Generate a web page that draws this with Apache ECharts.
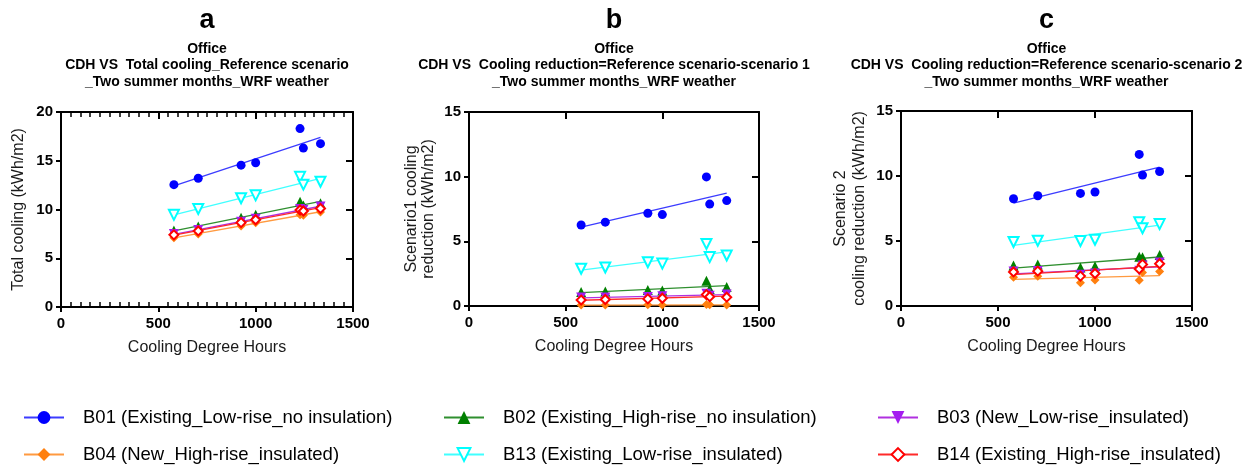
<!DOCTYPE html>
<html><head><meta charset="utf-8">
<script src="https://cdn.jsdelivr.net/npm/echarts@6/dist/echarts.min.js"></script>
<style>html,body{margin:0;padding:0;background:#fff}#c{width:1258px;height:465px}</style>
</head><body><div id="c"></div>
<script>
// ---- data ----
const cdh = [580, 705, 925, 1000, 1228, 1245, 1333];
const buildings = ['B01 (Existing_Low-rise_no insulation)', 'B02 (Existing_High-rise_no insulation)', 'B03 (New_Low-rise_insulated)',
                   'B04 (New_High-rise_insulated)', 'B13 (Existing_Low-rise_insulated)', 'B14 (Existing_High-rise_insulated)'];
// panel a: total cooling, reference scenario
const refB01 = [12.55, 13.2, 14.55, 14.8, 18.3, 16.3, 16.75];
const refB02 = [7.85, 8.25, 9.15, 9.45, 10.8, 10.4, 10.65];
const refB03 = [7.5, 7.9, 8.75, 9.05, 10.05, 9.95, 10.3];
const refB04 = [7.1, 7.5, 8.3, 8.65, 9.45, 9.4, 9.75];
const refB13 = [9.45, 10.05, 11.15, 11.45, 13.35, 12.55, 12.85];
const refB14 = [7.4, 7.8, 8.65, 8.95, 9.95, 9.85, 10.1];
// panel b: cooling reduction scenario 1
const s1B01 = [6.26, 6.48, 7.17, 7.07, 9.98, 7.88, 8.15];
const s1B02 = [1.08, 1.13, 1.24, 1.19, 1.95, 1.32, 1.47];
const s1B03 = [0.66, 0.66, 0.7, 0.75, 0.95, 0.8, 0.88];
const s1B04 = [0.07, 0.07, 0.09, 0.07, 0.11, 0.09, 0.07];
const s1B13 = [2.88, 2.98, 3.38, 3.28, 4.8, 3.78, 3.9];
const s1B14 = [0.46, 0.5, 0.55, 0.6, 0.88, 0.72, 0.68];
// panel c: cooling reduction scenario 2
const s2B01 = [8.25, 8.48, 8.66, 8.77, 11.66, 10.07, 10.35];
const s2B02 = [3.12, 3.2, 2.96, 3.05, 3.78, 3.75, 3.92];
const s2B03 = [2.65, 2.7, 2.4, 2.5, 2.72, 3.12, 3.34];
const s2B04 = [2.22, 2.28, 1.78, 2.0, 1.98, 2.58, 2.65];
const s2B13 = [4.92, 5.02, 5.0, 5.1, 6.45, 5.98, 6.3];
const s2B14 = [2.62, 2.68, 2.3, 2.5, 2.85, 3.2, 3.25];

const panelLetters = ['a', 'b', 'c'];
const panelTitles = [
  ['Office', 'CDH VS  Total cooling_Reference scenario', '_Two summer months_WRF weather'],
  ['Office', 'CDH VS  Cooling reduction=Reference scenario-scenario 1', '_Two summer months_WRF weather'],
  ['Office', 'CDH VS  Cooling reduction=Reference scenario-scenario 2', '_Two summer months_WRF weather']
];
const yNames = ['Total cooling (kWh/m2)', 'Scenario1 cooling\nreduction (kWh/m2)', 'Scenario 2\ncooling reduction (kWh/m2)'];
const xName = 'Cooling Degree Hours';
const xTicks = [0, 500, 1000, 1500];
const yMax = [20, 15, 15];

// ---- styles ----
const panelData = [
  [refB01, refB02, refB03, refB04, refB13, refB14],
  [s1B01, s1B02, s1B03, s1B04, s1B13, s1B14],
  [s2B01, s2B02, s2B03, s2B04, s2B13, s2B14]
];
const colors = ['#0000ff', '#008000', '#a41cf0', '#ff8010', '#00ffff', '#ff0000'];
const lineColors = ['#3c3cff', '#2f8f2f', '#b030e0', '#ff9a40', '#40ffff', '#ff2a2a'];
const marker = [
  {symbol: 'circle', size: 9, rotate: 0, hollow: false},
  {symbol: 'triangle', size: 10, rotate: 0, hollow: false},
  {symbol: 'triangle', size: 10, rotate: 180, hollow: false},
  {symbol: 'diamond', size: 9, rotate: 0, hollow: false},
  {symbol: 'triangle', size: 10, rotate: 180, hollow: true},
  {symbol: 'diamond', size: 9, rotate: 0, hollow: true}
];
const grids = [
  {left: 61, top: 112, width: 292, height: 195},
  {left: 469, top: 112, width: 290, height: 194},
  {left: 901, top: 111, width: 291, height: 195}
];
const FONT = 'Liberation Sans, Arial, sans-serif';

function linFit(xs, ys) {
  const n = xs.length;
  const mx = xs.reduce((a, b) => a + b, 0) / n;
  const my = ys.reduce((a, b) => a + b, 0) / n;
  let sxy = 0, sxx = 0;
  for (let i = 0; i < n; i++) { sxy += (xs[i] - mx) * (ys[i] - my); sxx += (xs[i] - mx) ** 2; }
  const b = sxy / sxx, a = my - b * mx;
  const x0 = Math.min(...xs), x1 = Math.max(...xs);
  return [[x0, a + b * x0], [x1, a + b * x1]];
}

const xAxis = [], yAxis = [], series = [], graphic = [];
const axisLineStyle = {color: '#000', width: 2};
const plain = v => String(v);
grids.forEach((g, p) => {
  const cx = g.left + g.width / 2;
  graphic.push({type: 'text', x: cx, y: 21, style: {text: panelLetters[p], font: 'bold 27px ' + FONT, fill: '#000', align: 'center', verticalAlign: 'middle'}});
  panelTitles[p].forEach((t, k) => {
    graphic.push({type: 'text', x: cx, y: 49 + k * 16.6, style: {text: t, font: 'bold 14px ' + FONT, fill: '#000', align: 'center', verticalAlign: 'middle'}});
  });
  const base = {gridIndex: p, type: 'value', min: xTicks[0], max: xTicks[xTicks.length - 1], interval: 500, splitLine: {show: false}};
  const xb = xAxis.length;
  xAxis.push(Object.assign({}, base, {
    position: 'bottom',
    axisLine: {show: true, onZero: false, lineStyle: axisLineStyle},
    axisTick: {show: true, length: 5, lineStyle: {width: 2, color: '#000'}},
    axisLabel: {show: true, margin: 9, color: '#000', fontSize: 15, fontWeight: 'bold', fontFamily: FONT, formatter: plain},
    name: xName, nameLocation: 'middle', nameGap: 33,
    nameTextStyle: {fontSize: 16, color: '#1a1a1a', fontFamily: FONT}
  }));
  xAxis.push(Object.assign({}, base, {
    position: 'top',
    axisLine: {show: true, onZero: false, lineStyle: axisLineStyle},
    axisTick: {show: true, inside: true, length: 7, lineStyle: {width: 2, color: '#000'}},
    axisLabel: {show: false},
    minorTick: {show: p === 0, splitNumber: 10, length: 5, lineStyle: {width: 1.5, color: '#000'}}
  }));
  if (p === 0) {
    xAxis.push(Object.assign({}, base, {
      position: 'bottom',
      axisLine: {show: false, onZero: false},
      axisTick: {show: false, inside: true},
      axisLabel: {show: false},
      minorTick: {show: true, splitNumber: 10, length: 5, lineStyle: {width: 1.5, color: '#000'}}
    }));
  }
  const ybase = {gridIndex: p, type: 'value', min: 0, max: yMax[p], interval: 5, splitLine: {show: false}};
  const yl = yAxis.length;
  yAxis.push(Object.assign({}, ybase, {
    position: 'left',
    axisLine: {show: true, onZero: false, lineStyle: axisLineStyle},
    axisTick: {show: true, length: 5, lineStyle: {width: 2, color: '#000'}},
    axisLabel: {show: true, margin: 8, color: '#000', fontSize: 15, fontWeight: 'bold', fontFamily: FONT, formatter: plain},
    name: yNames[p], nameLocation: 'middle', nameRotate: 90, nameGap: p === 0 ? 33 : 32,
    nameTextStyle: {fontSize: 16, color: '#1a1a1a', fontFamily: FONT, lineHeight: p === 1 ? 17 : 19}
  }));
  yAxis.push(Object.assign({}, ybase, {
    position: 'right',
    axisLine: {show: true, onZero: false, lineStyle: axisLineStyle},
    axisTick: {show: true, inside: true, length: 7, lineStyle: {width: 2, color: '#000'}},
    axisLabel: {show: false}
  }));
  panelData[p].forEach((vals, b) => {
    const m = marker[b];
    series.push({
      name: buildings[b] + ' fit', type: 'line', xAxisIndex: xb, yAxisIndex: yl,
      data: linFit(cdh, vals), showSymbol: false, symbol: 'none', silent: true, z: 2,
      lineStyle: {color: lineColors[b], width: 1.3}
    });
    series.push({
      name: buildings[b], type: 'line', xAxisIndex: xb, yAxisIndex: yl,
      data: cdh.map((x, i) => [x, vals[i]]),
      symbol: m.symbol, symbolSize: m.size, symbolRotate: m.rotate, showSymbol: true, z: 3,
      lineStyle: {color: colors[b], width: 0, opacity: 0},
      itemStyle: m.hollow ? {color: '#fff', borderColor: colors[b], borderWidth: 2} : {color: colors[b]}
    });
  });
});

const legendCols = [23, 443, 877];
const legendRows = [408, 445];
const legend = buildings.map((name, i) => ({
  data: [name], orient: 'horizontal', padding: 0,
  left: legendCols[i % 3], top: legendRows[Math.floor(i / 3)],
  itemWidth: 40, itemHeight: 16, selectedMode: false,
  lineStyle: {width: 2, opacity: 1, color: lineColors[i]},
  textStyle: {fontSize: 18.5, color: '#000', fontFamily: FONT, padding: [0, 0, 0, 14]}
}));

const chart = echarts.init(document.getElementById('c'), null, {renderer: 'canvas'});
chart.setOption({
  animation: false,
  backgroundColor: '#fff',
  grid: grids,
  xAxis, yAxis, series, legend, graphic
});
</script></body></html>
